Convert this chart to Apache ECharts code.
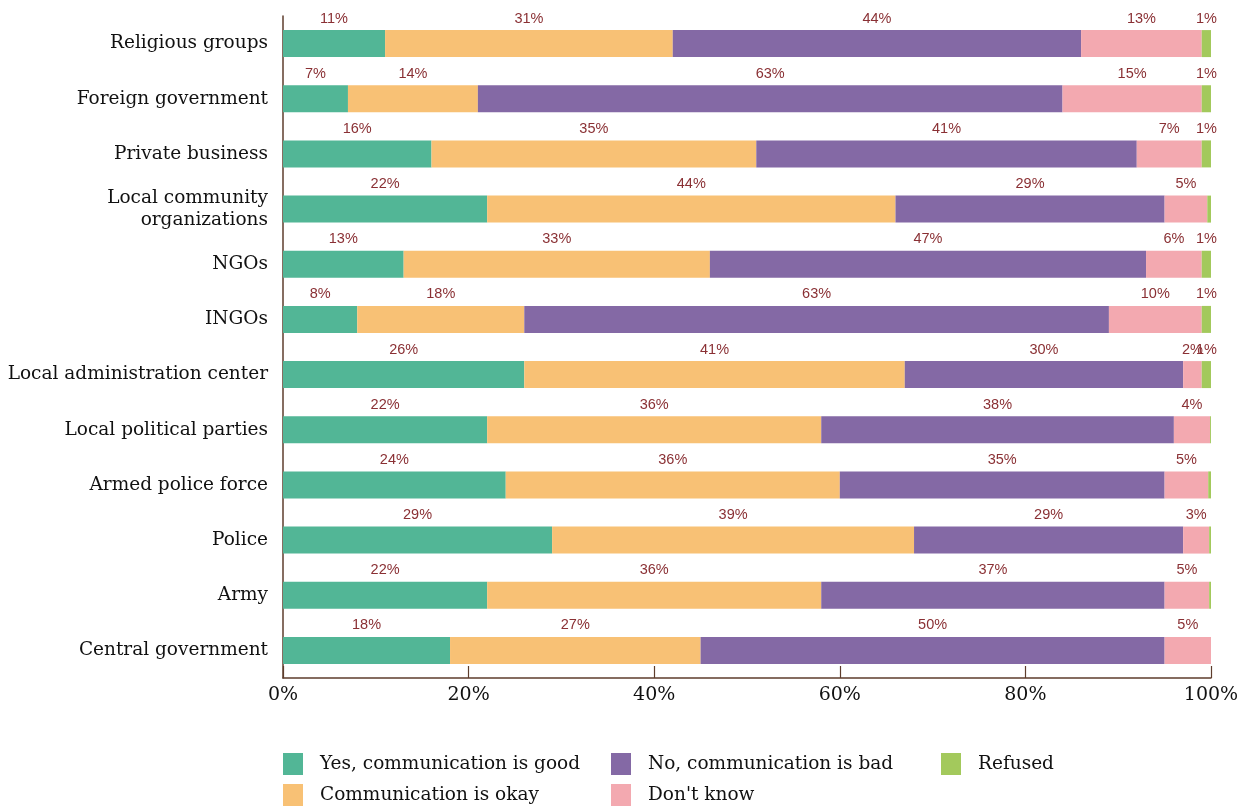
<!DOCTYPE html>
<html>
<head>
<meta charset="utf-8">
<script src="https://cdn.jsdelivr.net/npm/echarts@6/dist/echarts.min.js"></script>
<style>
  html, body { margin: 0; padding: 0; background: #ffffff; }
  #chart { width: 1250px; height: 808px; }
</style>
</head>
<body>
<div id="chart"></div>
<script>
// Institutions, listed top to bottom
const categories = [
  'Religious groups',
  'Foreign government',
  'Private business',
  'Local community\norganizations',
  'NGOs',
  'INGOs',
  'Local administration center',
  'Local political parties',
  'Armed police force',
  'Police',
  'Army',
  'Central government'
];

// Share of respondents (%) per answer
const good    = [11,  7, 16, 22,   13,  8, 26, 22,   24,   29,   22,   18];
const okay    = [31, 14, 35, 44,   33, 18, 41, 36,   36,   39,   36,   27];
const bad     = [44, 63, 41, 29,   47, 63, 30, 38,   35,   29,   37,   50];
const dontKnow= [13, 15,  7, 4.6,   6, 10,  2, 3.9,  4.7,  2.8,  4.8,  5];
const refused = [ 1,  1,  1, 0.4,   1,  1,  1, 0.1,  0.3,  0.2,  0.2,  0];

const xTicks = [0, 20, 40, 60, 80, 100];

const serif = '"DejaVu Serif", "Liberation Serif", serif';
const axisColor = '#5e3d2c';

function makeSeries(name, values, color) {
  return {
    name: name,
    type: 'bar',
    stack: 'total',
    barWidth: 27,
    data: values,
    itemStyle: { color: color },
    label: {
      show: true,
      position: 'top',
      distance: 4,
      color: '#8a3034',
      fontFamily: '"Liberation Sans", Arial, sans-serif',
      fontSize: 14.5,
      formatter: p => (p.value >= 0.5 ? Math.round(p.value) + '%' : '')
    },
    emphasis: { disabled: true }
  };
}

const legendText = { fontFamily: serif, fontSize: 18.5, color: '#111', padding: [0, 0, 0, 12] };
const legendBase = {
  orient: 'vertical',
  top: 753,
  padding: 0,
  itemWidth: 20,
  itemHeight: 22,
  itemGap: 9,
  icon: 'rect',
  textStyle: legendText,
  selectedMode: false
};

const chart = echarts.init(document.getElementById('chart'));
chart.setOption({
  animation: false,
  backgroundColor: '#ffffff',
  grid: { left: 283, right: 39, top: 16, bottom: 130, containLabel: false, outerBoundsMode: 'none' },
  xAxis: {
    type: 'value',
    min: 0,
    max: 100,
    interval: 20,
    axisLine: { show: true, lineStyle: { color: axisColor, width: 1.5 } },
    axisTick: { show: true, inside: true, length: 12, lineStyle: { color: axisColor, width: 1.2 } },
    splitLine: { show: false },
    axisLabel: {
      margin: 8,
      fontFamily: serif,
      fontSize: 19,
      color: '#111',
      formatter: v => (xTicks.includes(v) ? v + '%' : '')
    }
  },
  yAxis: {
    type: 'category',
    inverse: true,
    data: categories,
    axisLine: { show: true, lineStyle: { color: axisColor, width: 1.5 } },
    axisTick: { show: false },
    axisLabel: {
      margin: 15,
      fontFamily: serif,
      fontSize: 18.5,
      lineHeight: 22,
      padding: [10, 0, 0, 0],
      color: '#111',
      align: 'right'
    }
  },
  legend: [
    Object.assign({ left: 283, data: ['Yes, communication is good', 'Communication is okay'] }, legendBase),
    Object.assign({ left: 611, data: ['No, communication is bad', "Don't know"] }, legendBase),
    Object.assign({ left: 941, data: ['Refused'] }, legendBase)
  ],
  series: [
    makeSeries('Yes, communication is good', good, '#52b696'),
    makeSeries('Communication is okay', okay, '#f8c175'),
    makeSeries('No, communication is bad', bad, '#8469a5'),
    makeSeries("Don't know", dontKnow, '#f3a9b0'),
    makeSeries('Refused', refused, '#a3c95c')
  ]
});
</script>
</body>
</html>
